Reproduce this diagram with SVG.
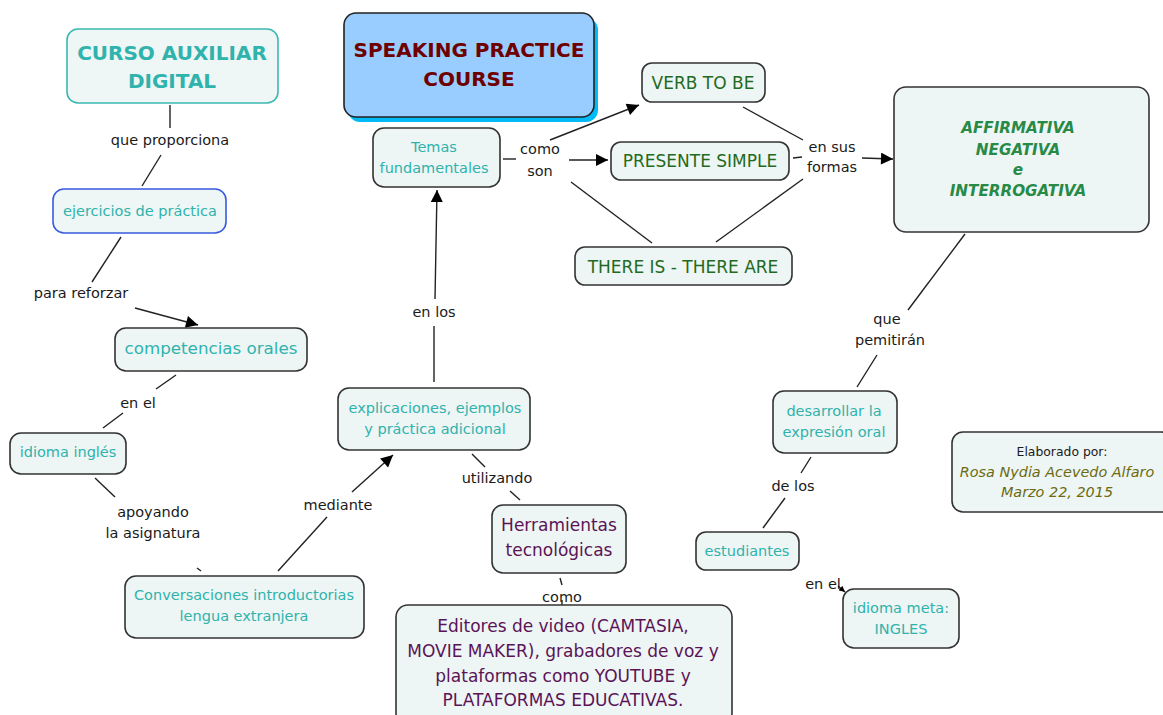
<svg xmlns="http://www.w3.org/2000/svg" width="1163" height="715" viewBox="0 0 1163 715">
<defs>
<marker id="arr" viewBox="0 0 10 10" refX="10" refY="5" markerWidth="15" markerHeight="12" markerUnits="userSpaceOnUse" orient="auto"><path d="M0,0 L10,5 L0,10 z" fill="#000"/></marker>
<marker id="arrs" viewBox="0 0 10 10" refX="10" refY="5" markerWidth="7" markerHeight="6" markerUnits="userSpaceOnUse" orient="auto"><path d="M0,0 L10,5 L0,10 z" fill="#000"/></marker>
</defs>
<style>
text{font-family:"DejaVu Sans","Liberation Sans",sans-serif;text-anchor:middle}
.box{fill:#eef5f5;stroke:#333;stroke-width:1.6}
.c{stroke:#222;stroke-width:1.4;fill:none}
.lbl{font-size:14.5px;fill:#1a1a1a}
.teal{font-size:14.5px;fill:#2fb3ac}
.green{font-size:17px;fill:#1f6b21}
.purple{font-size:17px;fill:#5a1456}
.aff{font-size:15.2px;font-weight:bold;font-style:italic;fill:#278a47}
</style>
<rect width="1163" height="715" fill="#fff"/>

<g id="connectors">
<line class="c" x1="170" y1="105" x2="170" y2="128"/>
<line class="c" x1="161" y1="155" x2="142" y2="186"/>
<line class="c" x1="121" y1="237" x2="92" y2="282"/>
<line class="c" x1="135" y1="308" x2="198" y2="325" marker-end="url(#arr)"/>
<line class="c" x1="176" y1="375" x2="156" y2="389"/>
<line class="c" x1="123" y1="413" x2="103" y2="428"/>
<line class="c" x1="95" y1="478" x2="115" y2="497"/>
<line class="c" x1="197" y1="568" x2="201" y2="571"/>
<line class="c" x1="278" y1="571" x2="327" y2="517"/>
<line class="c" x1="352" y1="492" x2="393" y2="455" marker-end="url(#arr)"/>
<line class="c" x1="434" y1="382" x2="434" y2="326"/>
<line class="c" x1="435" y1="299" x2="437" y2="190" marker-end="url(#arr)"/>
<line class="c" x1="472" y1="454" x2="485" y2="467"/>
<line class="c" x1="510" y1="491" x2="520" y2="500"/>
<line class="c" x1="560" y1="578" x2="562" y2="585"/>
<line class="c" x1="562" y1="600" x2="562" y2="606"/>
<line class="c" x1="503" y1="159" x2="516" y2="159"/>
<line class="c" x1="550" y1="140" x2="639" y2="105" marker-end="url(#arr)"/>
<line class="c" x1="569" y1="160" x2="608" y2="160" marker-end="url(#arr)"/>
<line class="c" x1="571" y1="182" x2="652" y2="243"/>
<line class="c" x1="743" y1="107" x2="803" y2="140"/>
<line class="c" x1="793" y1="158" x2="802" y2="157"/>
<line class="c" x1="716" y1="242" x2="803" y2="179"/>
<line class="c" x1="862" y1="158" x2="893" y2="159" marker-end="url(#arr)"/>
<line class="c" x1="965" y1="234" x2="908" y2="310"/>
<line class="c" x1="877" y1="355" x2="857" y2="387"/>
<line class="c" x1="811" y1="457" x2="801" y2="473"/>
<line class="c" x1="785" y1="498" x2="763" y2="528"/>
<line class="c" x1="838" y1="586" x2="845" y2="592" marker-end="url(#arrs)"/>
</g>

<g id="labels">
<text class="lbl" x="170" y="145">que proporciona</text>
<text class="lbl" x="81" y="298">para reforzar</text>
<text class="lbl" x="138" y="408">en el</text>
<text class="lbl" x="153" y="517">apoyando</text>
<text class="lbl" x="153" y="538">la asignatura</text>
<text class="lbl" x="338" y="510">mediante</text>
<text class="lbl" x="434" y="317">en los</text>
<text class="lbl" x="497" y="483">utilizando</text>
<text class="lbl" x="562" y="602">como</text>
<text class="lbl" x="540" y="154">como</text>
<text class="lbl" x="540" y="176">son</text>
<text class="lbl" x="832" y="152">en sus</text>
<text class="lbl" x="832" y="172">formas</text>
<text class="lbl" x="887" y="324">que</text>
<text class="lbl" x="890" y="345">pemitirán</text>
<text class="lbl" x="793" y="491">de los</text>
<text class="lbl" x="823" y="589">en el</text>
</g>

<g id="curso">
<rect x="67" y="29" width="211" height="74" rx="11" fill="#eef6f6" stroke="#3bb8b3" stroke-width="1.6"/>
<text x="172" y="60" font-size="20" font-weight="bold" fill="#2fb3ac">CURSO AUXILIAR</text>
<text x="172" y="88" font-size="20" font-weight="bold" fill="#2fb3ac">DIGITAL</text>
</g>

<g id="ejercicios">
<rect x="53" y="189" width="173" height="44" rx="11" fill="#eef6f6" stroke="#3a5be0" stroke-width="1.6"/>
<text class="teal" x="140" y="216">ejercicios de práctica</text>
</g>

<g id="competencias">
<rect class="box" x="115" y="328" width="192" height="43" rx="11"/>
<text x="211" y="354" font-size="16.7" fill="#2fb3ac">competencias orales</text>
</g>

<g id="idioma">
<rect class="box" x="10" y="433" width="116" height="41" rx="11"/>
<text class="teal" x="68" y="457">idioma inglés</text>
</g>

<g id="conversaciones">
<rect class="box" x="125" y="576" width="239" height="62" rx="11"/>
<text class="teal" x="244" y="600">Conversaciones introductorias</text>
<text class="teal" x="244" y="621">lengua extranjera</text>
</g>

<g id="explicaciones">
<rect class="box" x="338" y="388" width="192" height="62" rx="11"/>
<text class="teal" x="435" y="413">explicaciones, ejemplos</text>
<text class="teal" x="435" y="434">y práctica adicional</text>
</g>

<g id="temas">
<rect class="box" x="373" y="128" width="127" height="59" rx="11"/>
<text class="teal" x="434" y="152" font-size="14">Temas</text>
<text class="teal" x="434" y="173" font-size="14">fundamentales</text>
</g>

<g id="speaking">
<rect x="348" y="18" width="250" height="104" rx="12" fill="#00bbf5"/>
<rect x="344" y="13" width="250" height="104" rx="12" fill="#99ccff" stroke="#222" stroke-width="1.6"/>
<text x="469" y="57" font-size="20" font-weight="bold" fill="#6e0000">SPEAKING PRACTICE</text>
<text x="469" y="86" font-size="20" font-weight="bold" fill="#6e0000">COURSE</text>
</g>

<g id="verb">
<rect class="box" x="642" y="63" width="123" height="39" rx="10"/>
<text class="green" x="703" y="89">VERB TO BE</text>
</g>

<g id="presente">
<rect class="box" x="611" y="142" width="178" height="38" rx="10"/>
<text class="green" x="700" y="167">PRESENTE SIMPLE</text>
</g>

<g id="there">
<rect class="box" x="575" y="247" width="217" height="38" rx="10"/>
<text class="green" x="683" y="273">THERE IS - THERE ARE</text>
</g>

<g id="formas">
<rect class="box" x="894" y="87" width="255" height="145" rx="12"/>
<text class="aff" x="1018" y="133">AFFIRMATIVA</text>
<text class="aff" x="1018" y="155">NEGATIVA</text>
<text class="aff" x="1018" y="175">e</text>
<text class="aff" x="1018" y="196">INTERROGATIVA</text>
</g>

<g id="desarrollar">
<rect class="box" x="773" y="391" width="124" height="62" rx="11"/>
<text class="teal" x="834" y="416">desarrollar la</text>
<text class="teal" x="834" y="437">expresión oral</text>
</g>

<g id="estudiantes">
<rect class="box" x="696" y="532" width="103" height="38" rx="10"/>
<text class="teal" x="747" y="556">estudiantes</text>
</g>

<g id="meta">
<rect class="box" x="843" y="589" width="116" height="59" rx="11"/>
<text class="teal" x="901" y="613">idioma meta:</text>
<text class="teal" x="901" y="634">INGLES</text>
</g>

<g id="herramientas">
<rect class="box" x="492" y="505" width="134" height="68" rx="11"/>
<text class="purple" x="559" y="531">Herramientas</text>
<text class="purple" x="559" y="556">tecnológicas</text>
</g>

<g id="editores">
<rect class="box" x="396" y="605" width="336" height="120" rx="12"/>
<text class="purple" x="563" y="632">Editores de video (CAMTASIA,</text>
<text class="purple" x="563" y="657">MOVIE MAKER), grabadores de voz y</text>
<text class="purple" x="563" y="682">plataformas como YOUTUBE y</text>
<text class="purple" x="563" y="706">PLATAFORMAS EDUCATIVAS.</text>
</g>

<g id="elaborado">
<rect class="box" x="952" y="432" width="220" height="80" rx="11"/>
<text x="1062" y="456" font-size="12.4" fill="#1a1a1a">Elaborado por:</text>
<text x="1057" y="477" font-size="14.4" font-style="italic" fill="#6b6b10">Rosa Nydia Acevedo Alfaro</text>
<text x="1057" y="497" font-size="14.4" font-style="italic" fill="#6b6b10">Marzo 22, 2015</text>
</g>
</svg>
